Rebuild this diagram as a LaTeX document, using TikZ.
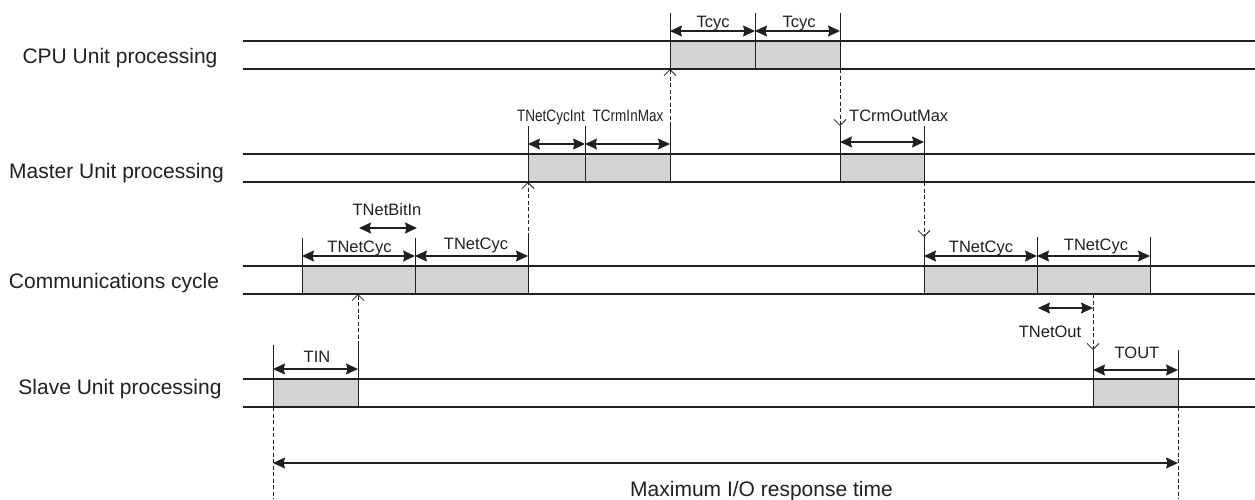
\documentclass[tikz,border=0pt]{standalone}
\usepackage{fontspec}
\setmainfont{Liberation Sans}
\usetikzlibrary{arrows.meta}
\definecolor{boxgray}{RGB}{209,211,212}
\definecolor{ink}{RGB}{35,31,32}
\begin{document}
\begin{tikzpicture}[x=1pt,y=-1pt,
 lane/.style={line width=1.5pt, draw=ink},
 slot/.style={fill=boxgray, draw=ink, line width=0.9pt},
 tick/.style={line width=0.9pt, draw=ink},
 dim/.style={line width=1.2pt, draw=ink, {Stealth[length=12pt,width=11pt,inset=1.5pt]}-{Stealth[length=12pt,width=11pt,inset=1.5pt]}},
 sig/.style={line width=0.8pt, draw=ink, dash pattern=on 4pt off 2.5pt, -{Straight Barb[length=6pt,width=12pt]}},
 guide/.style={line width=0.8pt, draw=ink, dash pattern=on 4pt off 2.5pt},
 lbl/.style={font=\fontsize{21}{25}\selectfont, text=ink, anchor=base, inner sep=0pt},
 dlbl/.style={font=\fontsize{16.5}{20}\selectfont, text=ink, anchor=base, inner sep=0pt},
]
\useasboundingbox (0,0) rectangle (1255,499);

% processing slots
\foreach \a/\b/\t/\u in {670/755/41/69, 755/840/41/69, 528/585/154/182, 585/670/154/182, 840/924/154/182, 302/415/266/294, 415/528/266/294, 924/1037/266/294, 1037/1150/266/294, 273/358/379/407, 1093/1178/379/407}
  \draw[slot] (\a,\t) rectangle (\b,\u);

% lanes
\foreach \y in {41,69,154,182,266,294,379,407}
  \draw[lane] (243,\y) -- (1255,\y);

% ticks
\foreach \x/\t/\b in {670/13/41, 755/13/41, 840/13/41, 528/126/154, 585/126/154, 670/126/154, 840/126/154, 924/126/154, 302/238/266, 415/238/266, 528/237/266, 924/237/266, 1037/237/266, 1150/237/266, 273/345/379, 358/345/379, 1093/350/379, 1178/350/379}
  \draw[tick] (\x,\t) -- (\x,\b);

% signal hand-over points
\coordinate (mInTop) at (670,126);
\coordinate (cpuInBot) at (670,69);
\coordinate (cpuOutBot) at (840,69);
\coordinate (mOutTop) at (840,126);
\coordinate (cIn) at (528,237);
\coordinate (mInBot) at (528,182);
\coordinate (mOutBot) at (924,182);
\coordinate (cOutTop) at (924,237);
\coordinate (sInTop) at (358,345);
\coordinate (cInBot) at (358,294);
\coordinate (cOutBot) at (1093,294);
\coordinate (sOutTop) at (1093,350);
\coordinate (sStart) at (273,407);
\coordinate (sStartEnd) at (273,499);
\coordinate (sEnd) at (1178,407);
\coordinate (sEndEnd) at (1178,499);

\draw[sig] (mInTop) -- (cpuInBot);
\draw[sig] (cpuOutBot) -- (mOutTop);
\draw[sig] (cIn) -- (mInBot);
\draw[sig] (mOutBot) -- (cOutTop);
\draw[sig] (sInTop) -- (cInBot);
\draw[sig] (cOutBot) -- (sOutTop);
\draw[guide] (sStart) -- (sStartEnd);
\draw[guide] (sEnd) -- (sEndEnd);

% dimension arrows
\draw[dim] (670,31) -- (755,31);
\draw[dim] (755,31) -- (840,31);
\draw[dim] (528,144) -- (585,144);
\draw[dim] (585,144) -- (670,144);
\draw[dim] (840,142) -- (924,142);
\draw[dim] (359,228) -- (417,228);
\draw[dim] (302,256) -- (415,256);
\draw[dim] (415,256) -- (528,256);
\draw[dim] (924,256) -- (1037,256);
\draw[dim] (1037,256) -- (1150,256);
\draw[dim] (1038,308) -- (1093,308);
\draw[dim] (273,369) -- (358,369);
\draw[dim] (1093,370) -- (1178,370);
\draw[dim] (273,463) -- (1178,463);

% lane labels
\node[lbl] (lcpu) at (120,63.3) {CPU Unit processing};
\node[lbl] (lmaster) at (116.5,178) {Master Unit processing};
\node[lbl] (lcomm) at (114,288) {Communications cycle};
\node[lbl] (lslave) at (120,394) {Slave Unit processing};
\node[lbl] (lmax) at (761.5,496) {Maximum I/O response time};

% dimension labels
\node[dlbl] (tcyc1) at (713,27) {Tcyc};
\node[dlbl] (tcyc2) at (799,27) {Tcyc};
\node[dlbl] (tnci) at (551,121) {\scalebox{0.82}[1]{TNetCycInt}};
\node[dlbl] (tcim) at (628,121) {\scalebox{0.82}[1]{TCrmInMax}};
\node[dlbl, anchor=base west] (tcom) at (849,121) {TCrmOutMax};
\node[dlbl] (tnbi) at (387,215) {TNetBitIn};
\node[dlbl] (tnc1) at (359.5,252) {TNetCyc};
\node[dlbl] (tnc2) at (476,249) {TNetCyc};
\node[dlbl] (tnc3) at (981,252) {TNetCyc};
\node[dlbl] (tnc4) at (1096,250) {TNetCyc};
\node[dlbl] (tno) at (1050,337) {TNetOut};
\node[dlbl] (tin) at (317,362) {TIN};
\node[dlbl] (tout) at (1137,358) {TOUT};
\end{tikzpicture}
\end{document}
